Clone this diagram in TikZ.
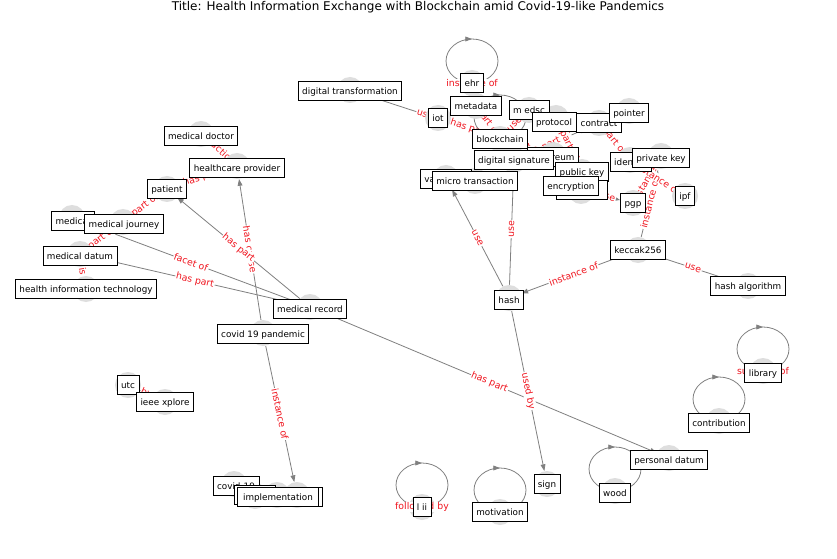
\documentclass[tikz,border=0pt]{standalone}
\usepackage{fontspec}
\setmainfont{DejaVu Sans}
\usetikzlibrary{arrows.meta,decorations.markings}
\pgfdeclarelayer{bg}
\pgfsetlayers{bg,main}
\definecolor{edgegray}{RGB}{128,128,128}
\definecolor{labred}{RGB}{240,20,30}
\definecolor{dotgray}{RGB}{222,222,222}
\newcommand{\lblfont}{\fontsize{6.6}{7.5}\selectfont}
\newcommand{\redfont}{\fontsize{7}{8}\selectfont}
\tikzset{
  dot/.style={circle, fill=dotgray, draw=none, minimum size=19.5pt, inner sep=0pt},
  lbl/.style={draw=black, fill=white, line width=0.6pt, font=\lblfont, inner xsep=3pt, inner ysep=2.6pt, text height=0.74em, text depth=0.2em},
  conn/.style={draw=edgegray, line width=0.6pt, -{Triangle[length=5pt,width=3.6pt]}},
  elab/.style={sloped, font=\redfont, text=labred, fill=white, inner sep=0.6pt},
  slab/.style={font=\redfont, text=labred, fill=white, inner sep=0.6pt},
  selfloop/.style={draw=edgegray, line width=0.6pt, postaction={decorate},
    decoration={markings, mark=at position 0.5 with {\arrow{Triangle[length=5pt,width=3.6pt]}}}}
}
\begin{document}
\begin{tikzpicture}[x=0.75pt,y=-0.75pt]
\useasboundingbox (0,0) rectangle (837,559);
\node[font=\fontsize{9}{11}\selectfont] (title) at (418,7) {Title: Health Information Exchange with Blockchain amid Covid-19-like Pandemics};
% node circles
\node[dot] (ehr) at (472,83) {};
\node[dot] (dtrans) at (350,90) {};
\node[dot] (meta) at (476,106) {};
\node[dot] (medsc) at (529,110) {};
\node[dot] (iot) at (438,118) {};
\node[dot] (proto) at (556,118) {};
\node[dot] (contract) at (599,123) {};
\node[dot] (pointer) at (629,111) {};
\node[dot] (bchain) at (500,139) {};
\node[dot] (dsig) at (514,160) {};
\node[dot] (eth) at (553,155) {};
\node[dot] (ident) at (630,160) {};
\node[dot] (pkey) at (661,156) {};
\node[dot] (pubkey) at (582,172) {};
\node[dot] (encr) at (571,186) {};
\node[dot] (hosp) at (581,191) {};
\node[dot] (valid) at (446,178) {};
\node[dot] (micro) at (475,181) {};
\node[dot] (pgp) at (633,203) {};
\node[dot] (ipf) at (685,196) {};
\node[dot] (keccak) at (638,250) {};
\node[dot] (hashalg) at (748,286) {};
\node[dot] (hash) at (509,298) {};
\node[dot] (mdoc) at (201,134) {};
\node[dot] (hcp) at (237,166) {};
\node[dot] (patient) at (167,189) {};
\node[dot] (medical) at (72,218) {};
\node[dot] (mjour) at (123,222) {};
\node[dot] (mdatum) at (80,254) {};
\node[dot] (hit) at (86,289) {};
\node[dot] (mrec) at (310,307) {};
\node[dot] (covidp) at (263,333) {};
\node[dot] (utc) at (128,385) {};
\node[dot] (ieee) at (165,402) {};
\node[dot] (covid) at (234,484) {};
\node[dot] (vaccine) at (255,496) {};
\node[dot] (impl) at (277,495) {};
\node[dot] (disease) at (297,495) {};
\node[dot] (lii) at (422,507) {};
\node[dot] (motiv) at (500,512) {};
\node[dot] (sign) at (547,484) {};
\node[dot] (wood) at (615,491) {};
\node[dot] (pdatum) at (669,458) {};
\node[dot] (contrib) at (719,421) {};
\node[dot] (library) at (763,371) {};

\begin{pgfonlayer}{bg}
\fill[white] (0,0) rectangle (837,559);
% edges
\draw[conn] (covidp) -- node[elab]{has cause} (hcp);
\draw[conn] (mrec) -- node[elab]{has part} (patient);
\draw[conn] (mrec) -- node[elab]{facet of} (medical);
\draw[conn] (mrec) -- node[elab]{has part} (mdatum);
\draw[conn] (mrec) -- node[elab]{has part} (pdatum);
\draw[conn] (covidp) -- node[elab]{instance of} (disease);
\draw[conn] (mdatum) -- node[elab]{part of} (mjour);
\draw[conn] (mjour) -- node[elab]{part of} (patient);
\draw[conn] (patient) -- node[elab]{has part} (hcp);
\draw[conn] (mdoc) -- node[elab]{practice} (hcp);
\draw[conn] (mdatum) -- node[elab]{is} (hit);
\draw[conn] (utc) -- node[elab]{by} (ieee);
\draw[conn] (hash) -- node[elab]{use} (valid);
\draw[conn] (hash) -- node[elab]{use} (dsig);
\draw[conn] (hash) -- node[elab]{used by} (sign);
\draw[conn] (keccak) -- node[elab]{instance of} (hash);
\draw[conn] (keccak) -- node[elab]{use} (hashalg);
\draw[conn] (keccak) -- node[elab]{instance of} (pkey);
\draw[conn] (pgp) -- node[elab]{instance of} (pkey);
\draw[conn] (ident) -- node[elab]{instance of} (ipf);
\draw[conn] (contract) -- node[elab]{part of} (ident);
\draw[conn] (hosp) -- node[elab]{use} (pgp);
\draw[conn] (dsig) -- node[elab]{part of} (contract);
\draw[conn] (pubkey) -- node[elab]{part of} (proto);
\draw[conn] (dtrans) -- node[elab]{use} (bchain);
\draw[conn] (iot) -- node[elab]{has part} (bchain);
\draw[conn] (meta) -- node[elab]{part of} (bchain);
\draw[conn] (medsc) -- node[elab]{use} (bchain);
\draw[conn] (eth) -- node[elab]{part of} (bchain);
% self loops
\draw[selfloop] (ehr.center) arc[start angle=90, end angle=450, x radius=26, y radius=22];
\draw[selfloop] (bchain.center) arc[start angle=90, end angle=450, x radius=26, y radius=22];
\draw[selfloop] (lii.center) arc[start angle=90, end angle=450, x radius=26, y radius=22];
\draw[selfloop] (motiv.center) arc[start angle=90, end angle=450, x radius=26, y radius=22];
\draw[selfloop] (wood.center) arc[start angle=90, end angle=450, x radius=26, y radius=22];
\draw[selfloop] (contrib.center) arc[start angle=90, end angle=450, x radius=26, y radius=22];
\draw[selfloop] (library.center) arc[start angle=90, end angle=450, x radius=26, y radius=22];
\end{pgfonlayer}

% self loop labels
\node[slab] (l-ehr) at (ehr) {instance of};
\node[slab] (l-lii) at (lii) {followed by};
\node[slab] (l-lib) at (library) {subclass of};

% label boxes
\node[lbl] (ehr-t) at (472,83) {ehr};
\node[lbl] (dtrans-t) at (350,91) {digital transformation};
\node[lbl] (meta-t) at (476,106) {metadata};
\node[lbl] (medsc-t) at (529,110) {m edsc};
\node[lbl] (iot-t) at (438,118) {iot};
\node[lbl] (contract-t) at (599,123) {contract};
\node[lbl] (proto-t) at (554,122) {protocol};
\node[lbl] (pointer-t) at (629,113) {pointer};
\node[lbl] (bchain-t) at (500,139) {blockchain};
\node[lbl] (eth-t) at (553,157) {ethereum};
\node[lbl] (dsig-t) at (514,160) {digital signature};
\node[lbl] (ident-t) at (631,162) {identity};
\node[lbl] (pkey-t) at (661,158) {private key};
\node[lbl] (pubkey-t) at (582,172) {public key};
\node[lbl, minimum width=38pt] (hosp-t) at (582,190) {hospital};
\node[lbl] (encr-t) at (571,186) {encryption};
\node[lbl] (valid-t) at (446,179) {validation};
\node[lbl] (micro-t) at (475,181) {micro transaction};
\node[lbl] (pgp-t) at (633,203) {pgp};
\node[lbl] (ipf-t) at (685,196) {ipf};
\node[lbl] (keccak-t) at (638,250) {keccak256};
\node[lbl] (hashalg-t) at (748,286) {hash algorithm};
\node[lbl] (hash-t) at (509,300) {hash};
\node[lbl] (mdoc-t) at (201,136) {medical doctor};
\node[lbl] (hcp-t) at (237,168) {healthcare provider};
\node[lbl] (patient-t) at (167,189) {patient};
\node[lbl] (medical-t) at (73,221) {medical};
\node[lbl] (mjour-t) at (124,224) {medical journey};
\node[lbl] (mdatum-t) at (80,256) {medical datum};
\node[lbl] (hit-t) at (86,289) {health information technology};
\node[lbl] (mrec-t) at (310,309) {medical record};
\node[lbl] (covidp-t) at (263,334) {covid 19 pandemic};
\node[lbl] (utc-t) at (128,385) {utc};
\node[lbl] (ieee-t) at (165,402) {ieee xplore};
\node[lbl] (covid-t) at (236,486) {covid-19};
\node[lbl] (vaccine-t) at (255,495) {vaccine};
\node[lbl] (disease-t) at (302,497) {disease};
\node[lbl, inner xsep=4pt] (impl-t) at (278,497) {implementation};
\node[lbl] (lii-t) at (422,507) {l ii};
\node[lbl] (motiv-t) at (500,512) {motivation};
\node[lbl] (sign-t) at (547,484) {sign};
\node[lbl] (wood-t) at (615,493) {wood};
\node[lbl] (pdatum-t) at (669,460) {personal datum};
\node[lbl] (contrib-t) at (719,423) {contribution};
\node[lbl] (library-t) at (763,373) {library};
\end{tikzpicture}
\end{document}
